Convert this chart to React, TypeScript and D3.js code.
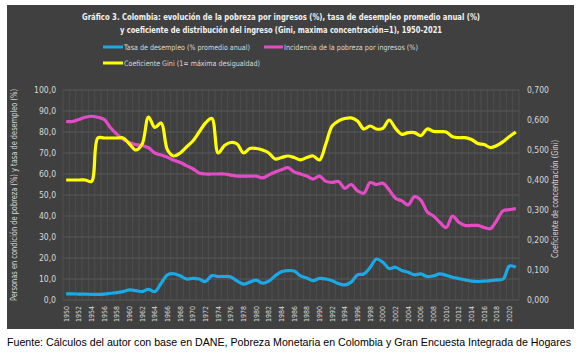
import React from "react";
import * as d3 from "d3";

const years: number[] = d3.range(1950, 2022);

const poverty: number[] = [
  85, 85, 86, 87, 87.5, 87, 86, 82, 79, 76.5,
  75, 74, 73.5, 72.5, 70, 69, 68, 66.5, 65.5, 64,
  62.5, 60.5, 60, 60, 60, 60, 59.5, 59, 59, 59,
  59, 58.2, 59.5, 61, 62, 63, 61, 60, 59, 57.6,
  59, 56.5, 56, 56.4, 53.2, 55, 52, 50.8, 55.9, 55,
  55.6, 52.4, 48.5, 47.2, 45.3, 49.2, 47.6, 42, 40, 37,
  34.5, 40, 37, 35.5, 35.5, 35.5, 34.5, 34, 38, 42.5,
  43, 43.5,
];

const gini: number[] = [
  0.4, 0.4, 0.4, 0.4, 0.395, 0.54, 0.54, 0.54, 0.54, 0.54,
  0.52, 0.5, 0.52, 0.61, 0.575, 0.59, 0.5, 0.48, 0.49, 0.51,
  0.53, 0.56, 0.59, 0.605, 0.49, 0.515, 0.525, 0.52, 0.49, 0.505,
  0.505, 0.5, 0.49, 0.47, 0.475, 0.48, 0.475, 0.467, 0.475, 0.48,
  0.467, 0.52, 0.58, 0.597, 0.605, 0.607, 0.597, 0.57, 0.58, 0.57,
  0.572, 0.6, 0.572, 0.552, 0.558, 0.558, 0.548, 0.57, 0.562, 0.561,
  0.56, 0.544, 0.541, 0.541, 0.535, 0.522, 0.518, 0.508, 0.515, 0.528,
  0.545, 0.56,
];

const unemployment: number[] = [
  2.9, 2.9, 2.8, 2.8, 2.7, 2.7, 2.8, 3.2, 3.5, 4.0,
  4.8, 4.5, 4.0, 5.1, 4.0, 8, 12, 12.5, 11.5, 10,
  10.3, 10, 8.8, 11.6, 11.2, 11.2, 11, 9, 7.6, 8.5,
  9.5, 8, 9, 11.5, 13.5, 14, 13.8, 11.5, 10.5, 9.2,
  10.3, 10, 9.2, 7.8, 7.2, 8.5, 12, 12.4, 15.5, 19.5,
  18, 15, 15.6, 14, 13.2, 12, 12.4, 11.2, 11.5, 12.4,
  11.8, 10.8, 10.2, 9.6, 9.0, 8.8, 9.0, 9.2, 9.6, 10.0,
  16.2, 15.6,
];

const leftTicks: number[] = d3.range(0, 101, 10);
const rightTicks: number[] = d3.range(0, 0.71, 0.1);

const titleLines: string[] = [
  "Gráfico 3. Colombia: evolución de la pobreza por ingresos (%), tasa de desempleo promedio anual (%)",
  "y coeficiente de distribución del ingreso (Gini, maxima concentración=1), 1950-2021",
];
const seriesNames: string[] = [
  "Tasa de desempleo (% promedio anual)",
  "Incidencia de la pobreza por ingresos (%)",
  "Coeficiente Gini (1= máxima desigualdad)",
];
const leftTitle = "Personas en condición de pobreza (%) y tasa de desempleo (%)";
const rightTitle = "Coeficiente de concentración (Gini)";
const footer =
  "Fuente: Cálculos del autor con base en DANE, Pobreza Monetaria en Colombia y Gran Encuesta Integrada de Hogares";

const C_BLUE = "#1aa9e6";
const C_PINK = "#e44cc6";
const C_YELLOW = "#ffff00";
const FONT = "'Liberation Sans Narrow', 'DejaVu Sans Condensed', 'Liberation Sans', sans-serif";

export default function App() {
  const W = 581;
  const H = 356;
  const plot = { left: 63, right: 519, top: 90, bottom: 300 };

  const x = d3.scaleLinear().domain([1949.5, 2021.5]).range([plot.left, plot.right]);
  const yL = d3.scaleLinear().domain([0, 100]).range([plot.bottom, plot.top]);
  const yR = d3.scaleLinear().domain([0, 0.7]).range([plot.bottom, plot.top]);

  const lineL = d3
    .line<number>()
    .x((_, i) => x(years[i]))
    .y((d) => yL(d))
    .curve(d3.curveCatmullRom.alpha(0.5));
  const lineR = d3
    .line<number>()
    .x((_, i) => x(years[i]))
    .y((d) => yR(d))
    .curve(d3.curveCatmullRom.alpha(0.5));

  const fmt1 = (v: number) => v.toFixed(1).replace(".", ",");
  const fmt3 = (v: number) => v.toFixed(3).replace(".", ",");

  const vGrid = d3.range(1949.5, 2022, 1);
  const labelYears = years.filter((yr) => yr % 2 === 0);

  return (
    <svg
      width={W}
      height={H}
      style={{ position: "absolute", left: 0, top: 0, background: "#ffffff" }}
    >
      <rect x={7} y={5} width={567} height={324} fill="#404040" />

      {/* grid */}
      {leftTicks.map((t) => (
        <line
          key={"h" + t}
          x1={plot.left}
          x2={plot.right}
          y1={yL(t)}
          y2={yL(t)}
          stroke="#5f5f5f"
          strokeWidth={0.8}
        />
      ))}
      {vGrid.map((g) => (
        <line
          key={"v" + g}
          x1={x(g)}
          x2={x(g)}
          y1={plot.top}
          y2={plot.bottom}
          stroke="#585858"
          strokeWidth={0.6}
        />
      ))}

      {/* title */}
      <text
        x={281}
        y={20}
        textAnchor="middle"
        fill="#f2f2f2"
        fontFamily={FONT}
        fontWeight="bold"
        fontSize={9.5}
        textLength={398}
        lengthAdjust="spacingAndGlyphs"
      >
        {titleLines[0]}
      </text>
      <text
        x={281}
        y={33}
        textAnchor="middle"
        fill="#f2f2f2"
        fontFamily={FONT}
        fontWeight="bold"
        fontSize={9.5}
        textLength={322}
        lengthAdjust="spacingAndGlyphs"
      >
        {titleLines[1]}
      </text>

      {/* legend */}
      <g fontFamily={FONT} fontSize={7.5} fill="#d9d9d9">
        <line x1={103} x2={123} y1={47} y2={47} stroke={C_BLUE} strokeWidth={3} />
        <text x={124} y={49.5} textLength={126} lengthAdjust="spacingAndGlyphs">
          {seriesNames[0]}
        </text>
        <line x1={264} x2={283} y1={47} y2={47} stroke={C_PINK} strokeWidth={3} />
        <text x={284} y={49.5} textLength={134} lengthAdjust="spacingAndGlyphs">
          {seriesNames[1]}
        </text>
        <line x1={103} x2={123} y1={63} y2={63} stroke={C_YELLOW} strokeWidth={3} />
        <text x={124} y={65.5} textLength={136} lengthAdjust="spacingAndGlyphs">
          {seriesNames[2]}
        </text>
      </g>

      {/* left and right axis labels */}
      <g fontFamily={FONT} fontSize={8.5} fill="#d9d9d9">
        {leftTicks.map((t) => (
          <text key={"l" + t} x={56} y={yL(t) + 3} textAnchor="end">
            {fmt1(t)}
          </text>
        ))}
        {rightTicks.map((t, i) => (
          <text key={"r" + i} x={527} y={yR(t) + 3} textAnchor="start">
            {fmt3(t)}
          </text>
        ))}
      </g>

      {/* x axis labels */}
      <g fontFamily={FONT} fontSize={7} fill="#d9d9d9">
        {labelYears.map((yr) => (
          <text
            key={"x" + yr}
            transform={`translate(${x(yr) + 2.5},306) rotate(-90)`}
            textAnchor="end"
          >
            {yr}
          </text>
        ))}
      </g>

      {/* axis titles */}
      <text
        transform={`translate(17,195) rotate(-90)`}
        textAnchor="middle"
        fontFamily={FONT}
        fontSize={8}
        fill="#d9d9d9"
        textLength={212}
        lengthAdjust="spacingAndGlyphs"
      >
        {leftTitle}
      </text>
      <text
        transform={`translate(558,199) rotate(-90)`}
        textAnchor="middle"
        fontFamily={FONT}
        fontSize={8}
        fill="#d9d9d9"
        textLength={118}
        lengthAdjust="spacingAndGlyphs"
      >
        {rightTitle}
      </text>

      {/* series */}
      <path d={lineL(unemployment) || ""} fill="none" stroke={C_BLUE} strokeWidth={3.2} strokeLinejoin="round" />
      <path d={lineL(poverty) || ""} fill="none" stroke={C_PINK} strokeWidth={3.2} strokeLinejoin="round" />
      <path d={lineR(gini) || ""} fill="none" stroke={C_YELLOW} strokeWidth={3.2} strokeLinejoin="round" />

      {/* footer */}
      <text
        x={7}
        y={346}
        fontFamily="'Liberation Sans', Arial, sans-serif"
        fontSize={10.2}
        fill="#000000"
        textLength={564}
        lengthAdjust="spacingAndGlyphs"
      >
        {footer}
      </text>
    </svg>
  );
}
